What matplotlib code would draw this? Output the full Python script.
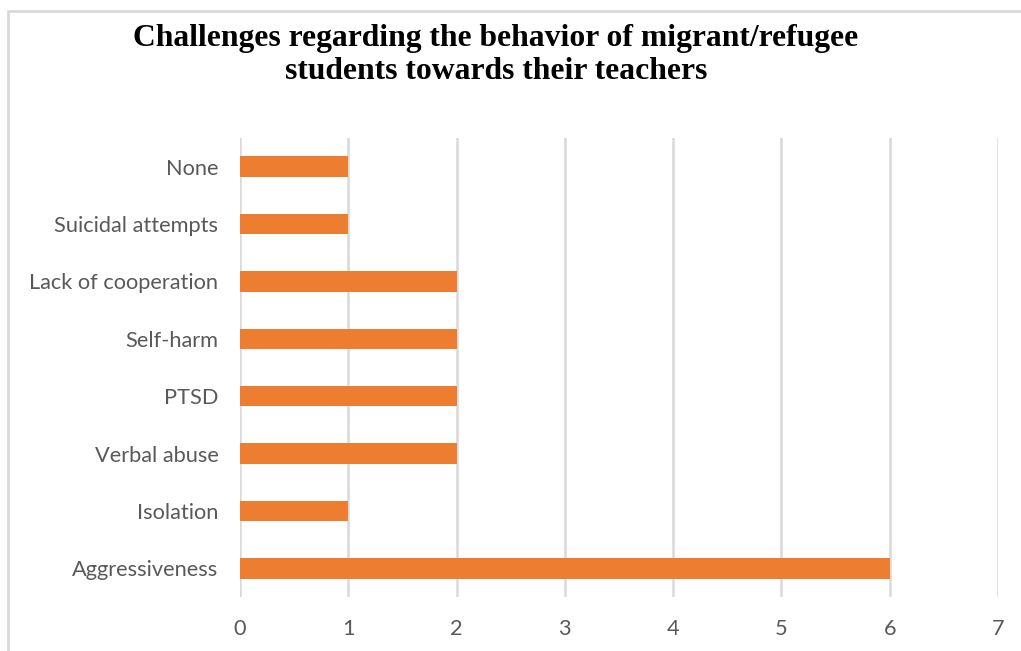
import matplotlib
matplotlib.use("Agg")
import matplotlib.pyplot as plt
from matplotlib.patches import Rectangle

categories = ["Aggressiveness", "Isolation", "Verbal abuse", "PTSD", "Self-harm",
              "Lack of cooperation", "Suicidal attempts", "None"]
values = [6, 1, 2, 2, 2, 2, 1, 1]
xticks = [0, 1, 2, 3, 4, 5, 6, 7]
title = "Challenges regarding the behavior of migrant/refugee\nstudents towards their teachers"

W, H = 1021, 651
fig = plt.figure(figsize=(W / 100, H / 100), dpi=100)
ax = fig.add_axes([240 / W, 1 - 597 / H, (998 - 240) / W, (597 - 138) / H])

ypos = list(range(len(categories)))
ax.barh(ypos, values, height=0.357, color="#ED7D31", zorder=3)
ax.set_xlim(0, 7)
ax.set_ylim(-0.5, len(categories) - 0.5)
ax.set_xticks(xticks)
ax.set_yticks(ypos)
ax.set_yticklabels(categories)
ax.grid(axis="x", color="#d9d9d9", linewidth=1.8, zorder=0)
for s in ax.spines.values():
    s.set_visible(False)
ax.tick_params(length=0, labelsize=15.7, labelcolor="#595959")
ax.tick_params(axis="x", pad=16)
ax.tick_params(axis="y", pad=15.5)
for lab in ax.get_xticklabels() + ax.get_yticklabels():
    lab.set_family(["Lato", "DejaVu Sans"])

fig.text(496 / W, 1 - 55 / H, title, ha="center", va="center",
         fontsize=22.8, fontweight="bold", family=["Liberation Serif", "DejaVu Serif"],
         linespacing=1.2)

border = Rectangle((7.5 / W, -0.1), 1.2, 1 - 11 / H + 0.1, transform=fig.transFigure,
                   fill=False, edgecolor="#d9d9d9", linewidth=2)
fig.patches.append(border)

fig.savefig("out.png", dpi=100)
